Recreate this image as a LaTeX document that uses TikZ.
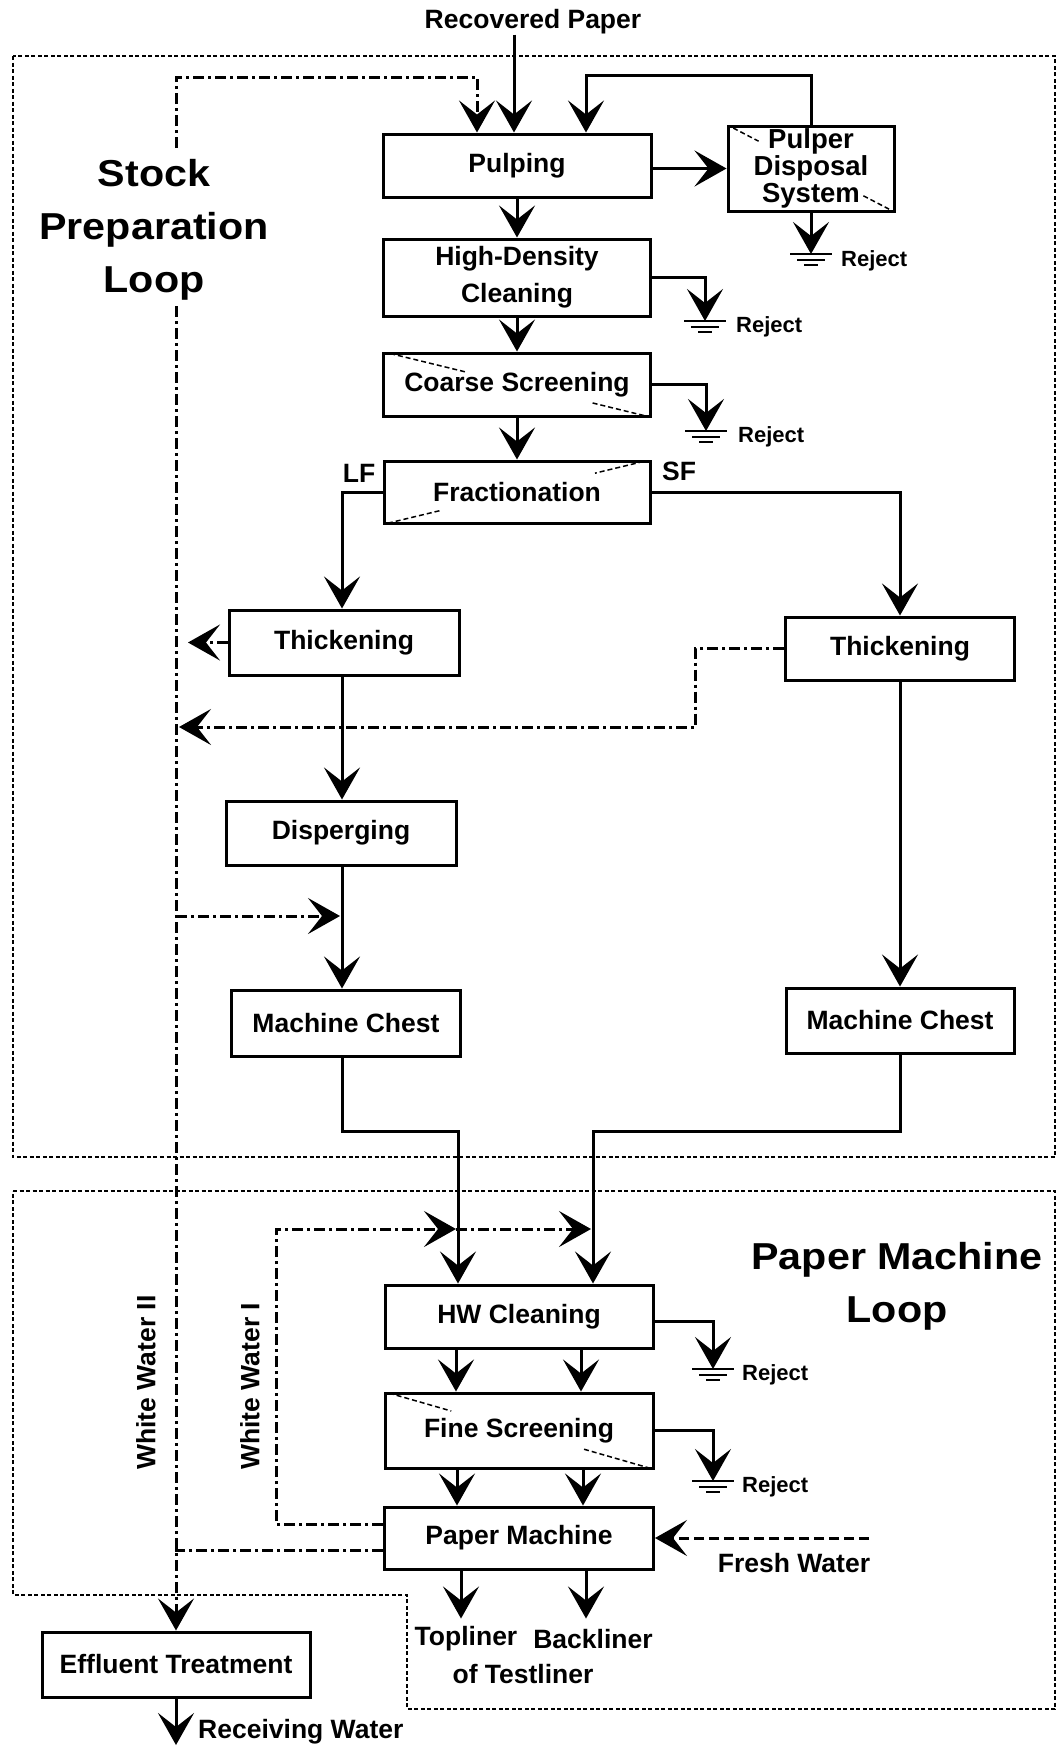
\documentclass[tikz,border=0pt]{standalone}
\usepackage{fontspec}
\setmainfont{Liberation Sans}
\newfontfamily\titlefont[FakeStretch=1.1]{Liberation Sans}
\usetikzlibrary{arrows.meta,calc}
\begin{document}
\begin{tikzpicture}[x=1pt,y=-1pt,
  box/.style={draw, line width=3pt, inner sep=0pt, align=center, font=\bfseries\fontsize{26.5}{29}\selectfont},
  lbl/.style={inner sep=0pt, align=center, font=\bfseries\fontsize{26.5}{29}\selectfont},
  ttl/.style={inner sep=0pt, align=center, font=\titlefont\bfseries\fontsize{37.5}{53}\selectfont},
  rej/.style={inner sep=0pt, anchor=west, font=\bfseries\fontsize{22}{24}\selectfont},
  arr/.style={line width=3pt, -{Stealth[length=32pt,width=36pt,inset=14pt]}},
  dd/.style={line width=3pt, dash pattern=on 11pt off 4pt on 3pt off 4pt},
  fresh/.style={line width=3pt, dash pattern=on 10pt off 5pt},
  loopbox/.style={line width=2.2pt, dash pattern=on 4pt off 2.5pt},
  diag/.style={line width=1.5pt, dash pattern=on 5pt off 3pt},
  gnd/.pic={\draw[line width=2pt] (-21,0) -- (21,0) (-14,5.5) -- (14,5.5) (-7,11) -- (7,11);}
]
\useasboundingbox (0,0) rectangle (1059,1746);

% loop frames
\draw[loopbox] (13,56) rectangle (1055,1157);
\draw[loopbox] (13,1191) -- (1055,1191) -- (1055,1709) -- (407,1709) -- (407,1595) -- (13,1595) -- cycle;

% titles
\node[ttl] (tStock) at (154,230) {Stock\\Preparation\\Loop};
\node[ttl] (tPM) at (897,1286) {Paper Machine\\Loop};

% boxes
\node[box, minimum width=268pt, minimum height=63pt] (pulp) at (517,165.5) {Pulping};
\node[box, minimum width=166pt, minimum height=85pt, font=\bfseries\fontsize{27.5}{27}\selectfont] (pds) at (811,168.5) {Pulper\\Disposal\\System};
\node[box, minimum width=267pt, minimum height=77pt, font=\bfseries\fontsize{26.5}{37}\selectfont] (hdc) at (517,277.5) {High-Density\\Cleaning};
\node[box, minimum width=267pt, minimum height=63pt] (coarse) at (517,384.5) {Coarse Screening};
\node[box, minimum width=266pt, minimum height=62pt] (frac) at (517,492) {Fractionation};
\node[box, minimum width=230pt, minimum height=65pt] (thickL) at (344,642.5) {Thickening};
\node[box, minimum width=229pt, minimum height=63pt] (thickR) at (900,648.5) {Thickening};
\node[box, minimum width=230pt, minimum height=64pt] (disp) at (341,833) {Disperging};
\node[box, minimum width=229pt, minimum height=66pt] (mcL) at (346,1023) {Machine Chest};
\node[box, minimum width=228pt, minimum height=65pt] (mcR) at (900,1020.5) {Machine Chest};
\node[box, minimum width=268pt, minimum height=63pt] (hw) at (519,1316.5) {HW Cleaning};
\node[box, minimum width=268pt, minimum height=75pt] (fine) at (519,1430.5) {Fine Screening};
\node[box, minimum width=269pt, minimum height=62pt] (pm) at (519,1538) {Paper Machine};
\node[box, minimum width=268pt, minimum height=65pt] (eff) at (176,1664.5) {Effluent Treatment};

% diagonal dashed marks
\draw[diag] ($(pds.north west)!0.04!(pds.south east)$) -- ($(pds.north west)!0.19!(pds.south east)$);
\draw[diag] ($(pds.north west)!0.81!(pds.south east)$) -- ($(pds.north west)!0.97!(pds.south east)$);
\draw[diag] ($(coarse.north west)!0.03!(coarse.south east)$) -- ($(coarse.north west)!0.31!(coarse.south east)$);
\draw[diag] ($(coarse.north west)!0.78!(coarse.south east)$) -- ($(coarse.north west)!0.99!(coarse.south east)$);
\draw[diag] ($(frac.north east)!0.03!(frac.south west)$) -- ($(frac.north east)!0.21!(frac.south west)$);
\draw[diag] ($(frac.south west)!0.02!(frac.north east)$) -- ($(frac.south west)!0.22!(frac.north east)$);
\draw[diag] ($(fine.north west)!0.02!(fine.south east)$) -- ($(fine.north west)!0.25!(fine.south east)$);
\draw[diag] ($(fine.north west)!0.74!(fine.south east)$) -- ($(fine.north west)!0.99!(fine.south east)$);

% text labels
\node[lbl] (rp) at (533,22) {Recovered Paper};
\node[lbl] (lf) at (359,473) {LF};
\node[lbl] (sf) at (679,471) {SF};
\node[lbl, rotate=90, anchor=west] (ww2) at (146,1470) {White Water II};
\node[lbl, rotate=90, anchor=west] (ww1) at (250,1470) {White Water I};
\node[lbl] (fwt) at (794,1563) {Fresh Water};
\node[lbl] (top) at (466,1639) {Topliner};
\node[lbl] (back) at (593,1639) {Backliner};
\node[lbl] (oft) at (523,1674) {of Testliner};
\node[lbl, anchor=west] (recw) at (198,1732) {Receiving Water};

% coordinates
\coordinate (g1) at (811,254);
\coordinate (g2) at (705,321);
\coordinate (g3) at (706,431);
\coordinate (g4) at (713,1369);
\coordinate (g5) at (713,1481);
\coordinate (wwTop) at (176,148);
\coordinate (wwMid) at (176,306);
\coordinate (tL) at (188,642.5);
\coordinate (tR) at (179,727);
\coordinate (bD) at (176,916);
\coordinate (bDe) at (340,916);
\coordinate (ww1c) at (276,1229);
\coordinate (ww1a) at (456,1229);
\coordinate (ww1b) at (591,1229);
\coordinate (fw) at (869,1538);
\coordinate (rwEnd) at (176,1745);

% main solid flows
\draw[arr] ([xshift=-19pt]rp.south) -- ([xshift=-3pt]pulp.north);
\draw[arr] (pulp.east |- pds.west) -- (pds.west);
\draw[arr] (pds.north) -- ++(0,-49) -| ([xshift=69pt]pulp.north);
\draw[arr] (pulp.south) -- (hdc.north);
\draw[arr] (hdc.south) -- (coarse.north);
\draw[arr] (coarse.south) -- (frac.north);
\draw[arr] (frac.west) -| ([xshift=-2pt]thickL.north);
\draw[arr] (frac.east) -| (thickR.north);
\draw[arr] ([xshift=-2pt]thickL.south) -- ([xshift=1pt]disp.north);
\draw[arr] ([xshift=1pt]disp.south) -- ([xshift=-4pt]mcL.north);
\draw[arr] (thickR.south) -- (mcR.north);
\draw[arr] ([xshift=-4pt]mcL.south) -- ++(0,74) -| ([xshift=-61pt]hw.north);
\draw[arr] (mcR.south) -- ++(0,77) -| ([xshift=74pt]hw.north);
\draw[arr] ([xshift=-63pt]hw.south) -- ([xshift=-63pt]fine.north);
\draw[arr] ([xshift=62pt]hw.south) -- ([xshift=62pt]fine.north);
\draw[arr] ([xshift=-62pt]fine.south) -- ([xshift=-62pt]pm.north);
\draw[arr] ([xshift=64pt]fine.south) -- ([xshift=64pt]pm.north);
\draw[arr] ([xshift=-58pt]pm.south) -- ++(0,48);
\draw[arr] ([xshift=67pt]pm.south) -- ++(0,48);
\draw[arr] (eff.south) -- (rwEnd);

% rejects
\draw[arr] (pds.south) -- (g1);
\draw[arr] (hdc.east) -| (g2);
\draw[arr] (coarse.east) -| (g3);
\draw[arr] ([yshift=-5pt]hw.east) -| (g4);
\draw[arr] (fine.east) -| (g5);
\pic at (g1) {gnd};
\pic at (g2) {gnd};
\pic at (g3) {gnd};
\pic at (g4) {gnd};
\pic at (g5) {gnd};
\node[rej] (r1) at (841,261) {Reject};
\node[rej] (r2) at (736,327) {Reject};
\node[rej] (r3) at (738,437) {Reject};
\node[rej] (r4) at (742,1375) {Reject};
\node[rej] (r5) at (742,1487) {Reject};

% white water lines
\draw[dd,arr] (wwTop) |- ++(301,-71) -- ([xshift=-40pt]pulp.north);
\draw[dd,arr] (wwMid) -- (eff.north);
\draw[dd,arr] (thickL.west) -- (tL);
\draw[dd,arr] (thickR.west) -- ++(-89,0) |- (tR);
\draw[dd,arr] (bD) -- (bDe);
\draw[dd,arr] ([yshift=14pt]pm.west) -| (ww1c) -- (ww1a);
\draw[dd,arr] (ww1a) -- (ww1b);
\draw[dd] ([yshift=-12pt]pm.west) -- ++(-208,0);

% fresh water
\draw[fresh,arr] (fw) -- (pm.east);
\end{tikzpicture}
\end{document}
